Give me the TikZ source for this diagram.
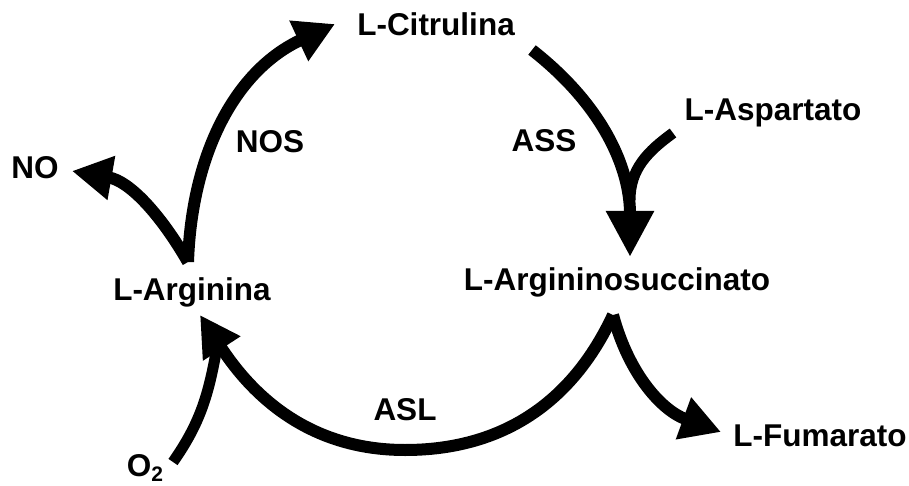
\documentclass[tikz,border=0pt]{standalone}
\usepackage{fontspec}
\setmainfont{Liberation Sans}
\usetikzlibrary{arrows.meta}
\tikzset{
  lbl/.style={font=\bfseries\fontsize{31.5}{36}\selectfont, inner sep=0pt, anchor=base},
  rxn/.style={line width=12pt, -{Triangle[length=40pt,width=42pt]}},
  bigrxn/.style={line width=12pt, -{Triangle[length=46pt,width=45pt]}},
  feed/.style={line width=11pt},
}

\begin{document}
\begin{tikzpicture}[x=1pt,y=1pt]
\useasboundingbox (0,0) rectangle (909,485);
% metabolites
\node[lbl] (cit) at (436,449) {L-Citrulina};
\node[lbl] (asp) at (773,364) {L-Aspartato};
\node[lbl] (succ) at (617,195) {L-Argininosuccinato};
\node[lbl] (arg) at (192,185) {L-Arginina};
\node[lbl] (fum) at (820,39) {L-Fumarato};
\node[lbl] (no) at (35,306) {NO};
\node[lbl] (o2) at (145,9) {O\raisebox{-5pt}{\fontsize{21}{21}\selectfont 2}};
% enzymes
\node[lbl] (nos) at (270,332) {NOS};
\node[lbl] (ass) at (544,333) {ASS};
\node[lbl] (asl) at (405,65) {ASL};
% ends of the arcs
\coordinate (argtop) at (188,223);
\coordinate (cittip) at (335,461);
\coordinate (notip) at (72,314);
\coordinate (citend) at (532,435);
\coordinate (succtip) at (630,228);
\coordinate (aspend) at (673,352);
\coordinate (aspjoin) at (630,285);
\coordinate (succbot) at (613,170);
\coordinate (aslbot) at (405,35);
\coordinate (argtip) at (200,170);
\coordinate (o2end) at (173,23);
\coordinate (o2join) at (217,138);
\coordinate (fumtip) at (721,53);
% NOS
\draw[rxn] (argtop) to[out=88,in=205] (cittip);
\draw[rxn] (argtop) to[out=120,in=-10] (notip);
% ASS
\draw[bigrxn] (citend) to[out=-38,in=90] (succtip);
\draw[feed] (aspend) to[out=216,in=90] (aspjoin);
% ASL
\draw[rxn] (succbot) to[out=245,in=0] (aslbot) to[out=180,in=-57] (argtip);
\draw[rxn] (succbot) to[out=-75,in=160] (fumtip);
\draw[feed] (o2end) to[out=55,in=260] (o2join);
\end{tikzpicture}
\end{document}
